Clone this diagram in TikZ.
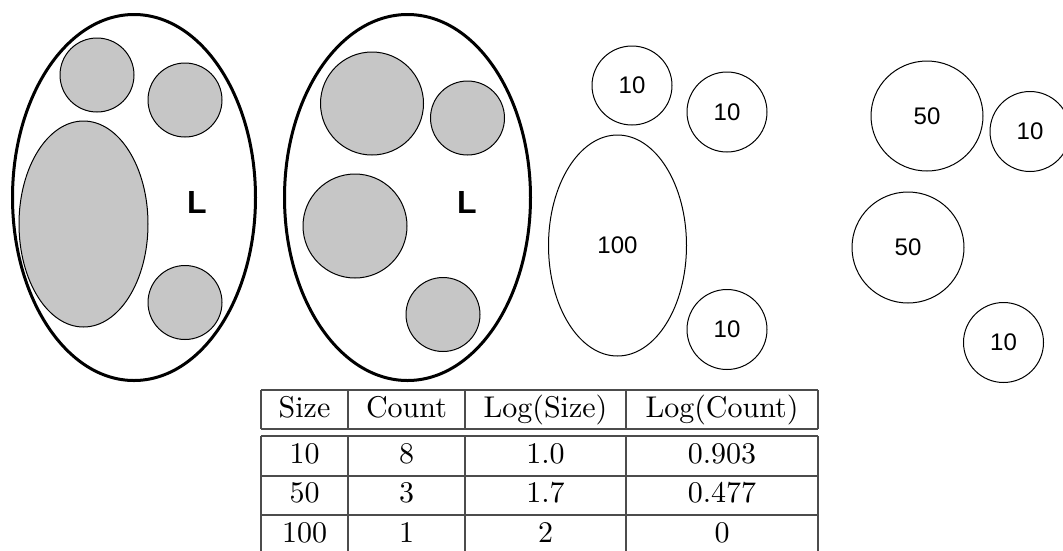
\documentclass[tikz,border=0pt]{standalone}
\usepackage{fontspec}
\usepackage{graphicx}
\usetikzlibrary{shapes.geometric}
\newfontfamily\arialfont{Liberation Sans}

% table text: 10pt design size, enlarged
\newcommand{\tabtext}[1]{\scalebox{3}{\fontsize{10}{12}\selectfont #1}}

\tikzset{
  blob/.style={ellipse, draw=black, line width=1pt, inner sep=0pt},
  cellblob/.style={blob, fill=gray!45},
  sizeblob/.style={blob, fill=white, font=\arialfont\fontsize{24}{28}\selectfont},
  cellwall/.style={ellipse, draw=black, line width=3pt, inner sep=0pt},
  tag/.style={font=\arialfont\bfseries\fontsize{32}{36}\selectfont},
  rule/.style={draw=black!70, line width=1.6pt},
  cell/.style={anchor=base, inner sep=0pt},
}

\begin{document}
\begin{tikzpicture}[x=1pt, y=-1pt]
\useasboundingbox (0,0) rectangle (1063,550);

% first cell with its contents
\node[cellwall, minimum width=243, minimum height=366] (wallA) at (134,197.5) {};
\node[cellblob, minimum width=74, minimum height=74] (a1) at (97,75) {};
\node[cellblob, minimum width=74, minimum height=74] (a2) at (185,100) {};
\node[cellblob, minimum width=129, minimum height=206] (a3) at (83.5,224) {};
\node[cellblob, minimum width=74, minimum height=74] (a4) at (185,302.5) {};
\node[tag] (tagA) at (197,202) {L};

% second cell with its contents
\node[cellwall, minimum width=246, minimum height=366] (wallB) at (407.5,197.5) {};
\node[cellblob, minimum width=103, minimum height=103] (b1) at (372,103.5) {};
\node[cellblob, minimum width=74, minimum height=74] (b2) at (467.5,118) {};
\node[cellblob, minimum width=104, minimum height=104] (b3) at (355,226) {};
\node[cellblob, minimum width=74, minimum height=74] (b4) at (443,314.5) {};
\node[tag] (tagB) at (467,202) {L};

% contents of the first cell, labelled by size
\node[sizeblob, minimum width=80, minimum height=79] (s1) at (632,85.5) {10};
\node[sizeblob, minimum width=80, minimum height=80] (s2) at (727,112) {10};
\node[sizeblob, minimum width=138, minimum height=221] (s3) at (617.5,245.5) {100};
\node[sizeblob, minimum width=80, minimum height=80] (s4) at (727,329.5) {10};

% contents of the second cell, labelled by size
\node[sizeblob, minimum width=112, minimum height=110] (t1) at (927,116) {50};
\node[sizeblob, minimum width=80, minimum height=80] (t2) at (1030,131.5) {10};
\node[sizeblob, minimum width=112, minimum height=111] (t3) at (908,247.5) {50};
\node[sizeblob, minimum width=80, minimum height=80] (t4) at (1003.5,342.5) {10};

% table rules
\draw[rule] (261,390) -- (818,390);
\draw[rule] (261,429) -- (818,429);
\draw[rule] (261,436) -- (818,436);
\draw[rule] (261,476) -- (818,476);
\draw[rule] (261,515) -- (818,515);
\foreach \cx in {261,348,465,626,818}{
  \draw[rule] (\cx,390) -- (\cx,429);
  \draw[rule] (\cx,436) -- (\cx,551);
}

% table header
\node[cell] (h1) at (304.5,417) {\tabtext{Size}};
\node[cell] (h2) at (406.5,417) {\tabtext{Count}};
\node[cell] (h3) at (545.5,417) {\tabtext{Log(Size)}};
\node[cell] (h4) at (722,417) {\tabtext{Log(Count)}};

% table body
\node[cell] (r11) at (304.5,463) {\tabtext{10}};
\node[cell] (r12) at (406.5,463) {\tabtext{8}};
\node[cell] (r13) at (545.5,463) {\tabtext{1.0}};
\node[cell] (r14) at (722,463) {\tabtext{0.903}};

\node[cell] (r21) at (304.5,502) {\tabtext{50}};
\node[cell] (r22) at (406.5,502) {\tabtext{3}};
\node[cell] (r23) at (545.5,502) {\tabtext{1.7}};
\node[cell] (r24) at (722,502) {\tabtext{0.477}};

\node[cell] (r31) at (304.5,542) {\tabtext{100}};
\node[cell] (r32) at (406.5,542) {\tabtext{1}};
\node[cell] (r33) at (545.5,542) {\tabtext{2}};
\node[cell] (r34) at (722,542) {\tabtext{0}};
\end{tikzpicture}
\end{document}
